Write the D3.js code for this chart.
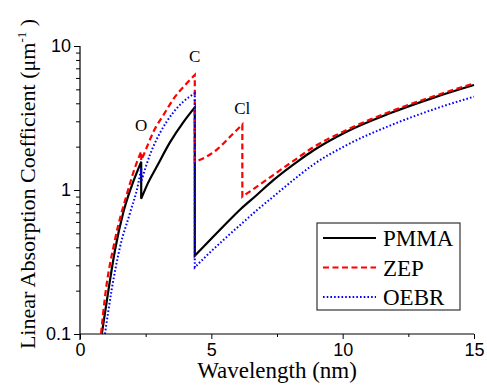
<!DOCTYPE html>
<html>
<head>
<meta charset="utf-8">
<script src="https://cdn.jsdelivr.net/npm/d3@7"></script>
<style>
  body { margin: 0; background: #fff; }
  svg { display: block; }
  .tick text { font-family: "Liberation Sans", Arial, sans-serif; font-size: 18px; fill: #000; }
  .serif { font-family: "Liberation Serif", "Times New Roman", serif; fill: #000; }
</style>
</head>
<body>
<svg id="chart" width="487" height="385"></svg>
<script>
// wavelength (nm), linear absorption coefficient (1/um)
const pmmaPts = [[0.83,0.1],[1.08,0.2],[1.33,0.38],[1.65,0.7],[1.97,1.07],[2.33,1.57],
  [2.33,0.87],[2.6,1.13],[2.92,1.45],[3.43,2.15],[3.93,2.95],[4.37,3.75],
  [4.37,0.35],[4.95,0.45],[5.46,0.56],[6.09,0.73],[6.72,0.92],[7.36,1.17],[8.37,1.62],[8.88,1.88],[10.15,2.54],[11.8,3.41],[13.5,4.4],[15,5.36]];
const zepPts = [[0.8,0.1],[0.95,0.18],[1.33,0.45],[1.78,0.93],[2.16,1.55],[2.33,1.85],
  [2.33,1.6],[2.45,1.8],[2.6,2.1],[2.8,2.55],[3.17,3.3],[3.62,4.45],[4.0,5.35],[4.37,6.3],
  [4.37,1.57],[4.57,1.62],[5.2,1.9],[5.71,2.34],[6.18,2.85],
  [6.18,0.9],[6.72,1.05],[7.36,1.27],[8.1,1.58],[8.88,1.98],[10.15,2.61],[11.8,3.5],[13.5,4.5],[15,5.5]];
const oebrPts = [[0.95,0.1],[1.2,0.2],[1.52,0.4],[1.9,0.69],[2.22,1.11],[2.33,1.42],
  [2.33,1.14],[2.66,1.75],[3.05,2.5],[3.55,3.45],[3.93,4.1],[4.37,4.7],
  [4.37,0.29],[4.82,0.35],[5.46,0.45],[6.09,0.57],[6.72,0.72],[7.36,0.9],[8.31,1.25],[8.88,1.5],[10.15,2.05],[11.8,2.8],[13.5,3.65],[15,4.45]];

const seriesNames = ['PMMA', 'ZEP', 'OEBR'];
const edgeLabels = [{t: 'O', x: 2.33, y: 2.55}, {t: 'C', x: 4.37, y: 7.7}, {t: 'Cl', x: 6.18, y: 3.35}];
const xTicks = [0, 5, 10, 15];
const xMinor = [2.5, 7.5, 12.5];
const yTicks = [0.1, 1, 10];
const yMinor = [0.2,0.3,0.4,0.5,0.6,0.7,0.8,0.9,2,3,4,5,6,7,8,9];

const serif = '"Liberation Serif", "Times New Roman", serif';
const svg = d3.select('#chart');
const x = d3.scaleLinear().domain([0, 15]).range([80, 474]);
const y = d3.scaleLog().domain([0.1, 10]).range([334, 46]);

const styles = [
  {color: '#000', dash: null, w: 2.2},
  {color: '#ff0000', dash: '6,3.5', w: 2.2},
  {color: '#0000ff', dash: '1.6,2.1', w: 2}
];

// split a series where the wavelength repeats (absorption edges), smooth each piece
const lineGen = d3.line().x(d => x(d[0])).y(d => y(d[1])).curve(d3.curveMonotoneX);
function edgePath(pts) {
  const segs = [[]];
  pts.forEach((p, i) => {
    if (i > 0 && p[0] === pts[i-1][0]) segs.push([]);
    segs[segs.length-1].push(p);
  });
  return segs.map((s, i) => i === 0 ? lineGen(s) : lineGen(s).replace(/^M/, 'L')).join('');
}

// axes
const xAxis = svg.append('g').attr('transform', 'translate(0,334)')
  .call(d3.axisBottom(x).tickValues(xTicks).tickSize(5).tickPadding(4).tickFormat(d3.format('d')));
svg.append('g').attr('transform', 'translate(0,334)')
  .call(d3.axisBottom(x).tickValues(xMinor).tickSize(3).tickFormat(''))
  .select('.domain').remove();
const yAxis = svg.append('g').attr('transform', 'translate(80,0)')
  .call(d3.axisLeft(y).tickValues(yTicks).tickSize(6).tickPadding(3).tickFormat(d => d < 1 ? '0.1' : d3.format('d')(d)));
svg.append('g').attr('transform', 'translate(80,0)')
  .call(d3.axisLeft(y).tickValues(yMinor).tickSize(4).tickFormat(''))
  .select('.domain').remove();
xAxis.select('.domain').attr('d', 'M80,0H474').attr('stroke-width', 1.2);
yAxis.select('.domain').attr('d', 'M0,340V46').attr('stroke-width', 1.2);
svg.selectAll('.tick line').attr('stroke', '#000');

// curves
[pmmaPts, zepPts, oebrPts].forEach((pts, i) => {
  svg.append('path')
    .attr('d', edgePath(pts))
    .attr('fill', 'none')
    .attr('stroke', styles[i].color)
    .attr('stroke-width', styles[i].w)
    .attr('stroke-dasharray', styles[i].dash);
});

// edge labels
svg.selectAll('.edge').data(edgeLabels).enter().append('text')
  .attr('class', 'serif edge')
  .attr('font-family', serif)
  .attr('x', d => x(d.x))
  .attr('y', d => y(d.y))
  .attr('text-anchor', 'middle')
  .attr('font-size', 17)
  .text(d => d.t);

// titles
svg.append('text').attr('class', 'serif').attr('font-family', serif)
  .attr('x', 277).attr('y', 378).attr('text-anchor', 'middle').attr('font-size', 23)
  .text('Wavelength (nm)');
const yt = svg.append('text').attr('class', 'serif').attr('font-family', serif)
  .attr('transform', 'translate(35,184) rotate(-90)')
  .attr('text-anchor', 'middle').attr('font-size', 22);
yt.append('tspan').text('Linear Absorption Coefficient (\u03bcm');
yt.append('tspan').attr('dy', -9).attr('font-size', 13).text('-1');
yt.append('tspan').attr('dy', 9).text(' )');

// legend
const lg = svg.append('g').attr('transform', 'translate(317,223)');
lg.append('rect').attr('width', 143).attr('height', 87)
  .attr('fill', '#fff').attr('stroke', '#333').attr('stroke-width', 1.2);
seriesNames.forEach((n, i) => {
  const cy = 15 + i * 29.5;
  lg.append('line').attr('x1', 6).attr('x2', 59).attr('y1', cy).attr('y2', cy)
    .attr('stroke', styles[i].color).attr('stroke-width', styles[i].w)
    .attr('stroke-dasharray', styles[i].dash);
  lg.append('text').attr('class', 'serif').attr('font-family', serif)
    .attr('x', 66).attr('y', cy + 8)
    .attr('font-size', 23).text(n);
});
</script>
</body>
</html>
